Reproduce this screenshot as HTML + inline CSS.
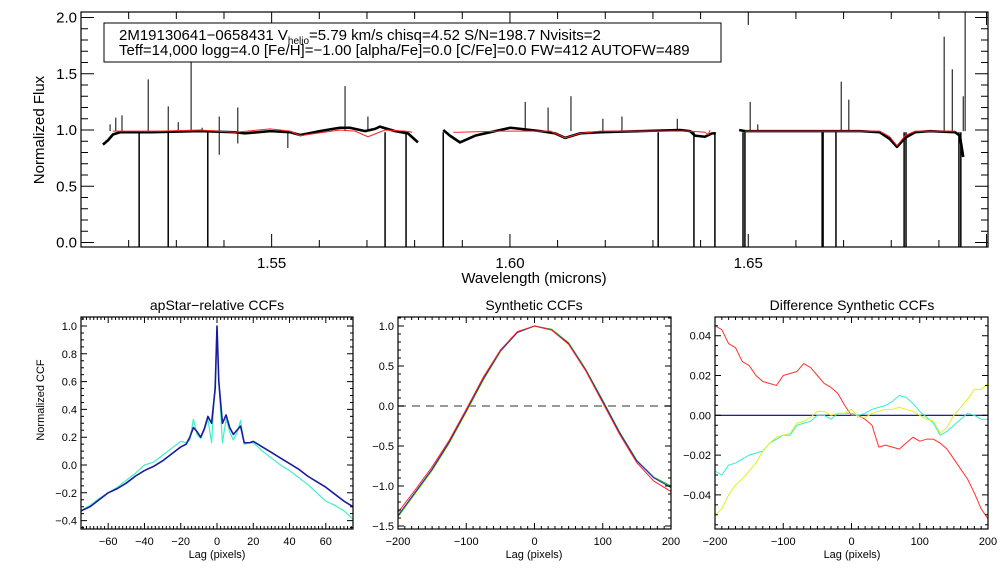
<!DOCTYPE html>
<html><head><meta charset="utf-8">
<style>
html,body{margin:0;padding:0;background:#fff;}
svg{display:block;font-family:"Liberation Sans",sans-serif;}
</style></head>
<body>
<svg id="c" width="1008" height="576" viewBox="0 0 1008 576">
<rect width="1008" height="576" fill="#fff"/>
</svg>
<script>
// ===== Top panel data: spectrum =====
var chip1Wave=[1.5146,1.5157,1.5167,1.5182,1.5245,1.5350,1.5423,1.5444,1.5497,1.5539,1.5560,1.5601,1.5643,1.5664,1.5696,1.5717,1.5727,1.5759,1.5786,1.5807];
var chip1Flux=[0.87,0.91,0.96,0.98,0.98,0.99,0.98,0.97,0.99,0.98,0.955,0.99,1.02,1.02,0.99,1.01,1.03,0.99,0.97,0.89];
var chip1ModelWave=[1.5167,1.5266,1.5350,1.5423,1.5497,1.5539,1.5560,1.5643,1.5675,1.5702,1.5738,1.5780,1.5795];
var chip1ModelFlux=[0.99,0.99,1.0,0.98,1.01,0.99,0.95,1.0,0.99,0.94,1.0,0.99,0.98];
var chip2Wave=[1.5860,1.5874,1.5895,1.5927,1.5969,1.6001,1.6064,1.6095,1.6116,1.6147,1.6189,1.6273,1.6357,1.6378,1.6388,1.6409,1.6424,1.6432];
var chip2Flux=[1.0,0.95,0.89,0.95,0.99,1.02,0.99,0.97,0.93,0.97,0.98,0.99,1.0,0.99,0.95,0.94,0.97,0.97];
var chip2ModelWave=[1.5881,1.5891,1.5980,1.6085,1.6116,1.6147,1.6189,1.6378,1.6409,1.6416,1.6420];
var chip2ModelFlux=[0.98,0.98,0.99,0.99,0.93,0.97,0.99,0.99,0.98,0.96,1.0];
var chip3Wave=[1.6481,1.6493,1.6609,1.6735,1.6776,1.6797,1.6812,1.6829,1.6850,1.6881,1.6934,1.6944,1.6951];
var chip3Flux=[1.0,0.99,0.99,0.99,0.98,0.92,0.85,0.93,0.98,0.99,0.98,0.95,0.76];
var chip3ModelWave=[1.6493,1.6776,1.6797,1.6812,1.6829,1.6850,1.6934];
var chip3ModelFlux=[0.99,0.99,0.94,0.86,0.95,0.99,0.99];
var spikeWave=[1.5161,1.5173,1.5186,1.5241,1.5283,1.5304,1.5331,1.5354,1.5390,1.5390,1.5429,1.5429,1.5534,1.5654,1.5702,1.6032,1.6080,1.6128,1.6195,1.6235,1.6351,1.6504,1.6520,1.6695,1.6711,1.6911,1.6928,1.6951,1.6955];
var spikeFlux=[1.05,1.11,1.13,1.45,1.21,1.07,1.6,1.02,1.12,0.78,1.2,0.88,0.84,1.39,1.12,1.25,1.2,1.3,1.1,1.12,1.1,1.25,1.05,1.43,1.27,1.83,1.54,1.3,2.05];
var badWave=[1.5222,1.5283,1.5366,1.5738,1.5782,1.5860,1.6311,1.6386,1.6430,1.6489,1.6493,1.6655,1.6657,1.6684,1.6827,1.6831,1.6942,1.6946];
var fluxTicks=[0.0,0.5,1.0,1.5,2.0];
var waveTicks=[1.55,1.60,1.65];
// ===== apStar-relative CCFs =====
var lagA=[-75,-70,-65,-60,-55,-50,-45,-40,-35,-30,-25,-20,-17,-15,-13,-11,-9,-7,-5,-3,-1,0,1,3,5,7,9,11,13,15,18,20,25,30,35,40,45,50,55,60,65,70,75];
var ccfBlue=[-0.33,-0.30,-0.25,-0.20,-0.17,-0.13,-0.08,-0.04,-0.01,0.03,0.08,0.13,0.15,0.20,0.27,0.24,0.20,0.26,0.35,0.30,0.55,1.0,0.60,0.30,0.36,0.27,0.22,0.25,0.28,0.16,0.16,0.17,0.13,0.09,0.05,0.01,-0.03,-0.08,-0.12,-0.16,-0.21,-0.26,-0.30];
var ccfCyan=[-0.33,-0.29,-0.24,-0.20,-0.16,-0.11,-0.06,0.00,0.02,0.07,0.12,0.17,0.16,0.18,0.33,0.22,0.19,0.25,0.33,0.16,0.60,1.0,0.60,0.16,0.33,0.24,0.18,0.23,0.32,0.15,0.16,0.16,0.10,0.05,0.00,-0.04,-0.09,-0.14,-0.20,-0.26,-0.29,-0.33,-0.39];
// ===== Synthetic CCFs =====
var lagS=[-200,-175,-150,-125,-100,-75,-50,-25,0,25,50,75,100,125,150,175,200];
var synBlue=[-1.37,-1.08,-0.79,-0.45,-0.06,0.34,0.69,0.92,1.0,0.95,0.78,0.45,0.06,-0.34,-0.69,-0.90,-1.02];
var synGreen=[-1.38,-1.09,-0.80,-0.46,-0.07,0.33,0.68,0.92,1.0,0.96,0.79,0.46,0.07,-0.33,-0.68,-0.89,-1.00];
var synYellow=[-1.39,-1.10,-0.81,-0.47,-0.08,0.32,0.68,0.92,1.0,0.96,0.79,0.46,0.07,-0.33,-0.68,-0.89,-1.01];
var synRed=[-1.33,-1.05,-0.76,-0.43,-0.04,0.36,0.70,0.93,1.0,0.95,0.77,0.44,0.04,-0.36,-0.71,-0.94,-1.07];
// ===== Difference synthetic CCFs =====
var lagD=[-200,-190,-180,-170,-160,-150,-140,-130,-120,-110,-100,-90,-80,-70,-60,-50,-40,-30,-20,-10,0,10,20,30,40,50,60,70,80,90,100,110,120,130,140,150,160,170,180,190,200];
var difRed=[0.045,0.043,0.036,0.034,0.027,0.025,0.020,0.017,0.016,0.015,0.020,0.021,0.022,0.026,0.024,0.020,0.016,0.014,0.011,0.005,0.000,0.000,-0.002,-0.005,-0.016,-0.015,-0.016,-0.017,-0.014,-0.011,-0.013,-0.012,-0.012,-0.014,-0.017,-0.022,-0.027,-0.032,-0.039,-0.047,-0.052];
var difCyan=[-0.028,-0.030,-0.025,-0.024,-0.022,-0.020,-0.019,-0.018,-0.014,-0.012,-0.010,-0.010,-0.005,-0.004,-0.003,0.000,0.000,-0.002,0.001,0.001,0.001,0.000,0.001,0.003,0.004,0.005,0.007,0.010,0.009,0.006,0.002,-0.001,-0.004,-0.010,-0.008,-0.005,-0.002,0.001,0.000,-0.002,-0.002];
var difYellow=[-0.050,-0.047,-0.040,-0.035,-0.032,-0.028,-0.024,-0.018,-0.014,-0.011,-0.010,-0.009,-0.004,-0.003,-0.001,0.002,0.002,0.000,0.001,0.001,0.003,-0.001,-0.001,0.001,0.002,0.003,0.003,0.004,0.003,0.002,0.000,-0.002,-0.003,-0.009,-0.006,0.000,0.004,0.008,0.013,0.013,0.016];
var difZero=[0,0];
var difZeroLag=[-200,200];

var NS="http://www.w3.org/2000/svg";
var svg=document.getElementById('c');
function mk(tag,attrs,parent){var e=document.createElementNS(NS,tag);for(var k in attrs)e.setAttribute(k,attrs[k]);(parent||svg).appendChild(e);return e;}
function scale(d0,d1,r0,r1){return function(v){return r0+(v-d0)/(d1-d0)*(r1-r0);};}
function poly(xs,ys,X,Y,color,w,name,dash){
  var p=xs.map(function(x,i){return X(x).toFixed(2)+','+Y(ys[i]).toFixed(2);}).join(' ');
  var a={points:p,fill:'none',stroke:color,'stroke-width':w,'stroke-linejoin':'round'};
  if(dash)a['stroke-dasharray']=dash;
  var el=mk('polyline',a);
  
  
  return el;
}
function axes(box,X,Y,xr,yr,xMaj,xMin,yMaj,yMin,majL,minL,name){
  var g=mk('g',{});
  
  
  mk('rect',{x:box.l,y:box.t,width:box.r-box.l,height:box.b-box.t,fill:'none',stroke:'#000','stroke-width':1.2},g);
  var d='';
  function ticks(lo,hi,step,isX,len){
    var s=Math.ceil(lo/step-1e-6);
    for(var k=s;k*step<=hi+1e-9;k++){var v=k*step;
      if(isX){var x=X(v);d+='M'+x+','+box.b+'v'+(-len)+'M'+x+','+box.t+'v'+len;}
      else{var y=Y(v);d+='M'+box.l+','+y+'h'+len+'M'+box.r+','+y+'h'+(-len);}
    }
  }
  ticks(xr[0],xr[1],xMin,true,minL);ticks(xr[0],xr[1],xMaj,true,majL);
  ticks(yr[0],yr[1],yMin,false,minL);ticks(yr[0],yr[1],yMaj,false,majL);
  mk('path',{d:d,stroke:'#000','stroke-width':1,fill:'none'},g);
}
function txt(x,y,s,size,anchor,name,extra){
  var t=mk('text',Object.assign({x:x,y:y,'font-size':size,'text-anchor':anchor||'middle',fill:'#000'},extra||{}));
  t.textContent=s;
  
  
  return t;
}

// ---- Top panel ----
var TB={l:81,r:988,t:12,b:247};
var TX=scale(1.51,1.7003,TB.l,TB.r);
var TY=function(v){return Math.max(TB.t,Math.min(TB.b,242.5-112.5*v));};
poly(chip1Wave,chip1Flux,TX,TY,'#000',2.6,'spectrum-chip-blue');
poly(chip2Wave,chip2Flux,TX,TY,'#000',2.6,'spectrum-chip-green');
poly(chip3Wave,chip3Flux,TX,TY,'#000',2.6,'spectrum-chip-red');
spikeWave.forEach(function(w,i){
  var el=mk('line',{x1:TX(w),x2:TX(w),y1:TY(0.99),y2:TY(spikeFlux[i]),stroke:'#000','stroke-width':1});
  
  
});
badWave.forEach(function(w){
  var el=mk('line',{x1:TX(w),x2:TX(w),y1:TY(0.98),y2:TY(-0.1),stroke:'#000','stroke-width':1.5});
  
  
});
poly(chip1ModelWave,chip1ModelFlux,TX,TY,'#ff2020',1,'model-chip-blue');
poly(chip2ModelWave,chip2ModelFlux,TX,TY,'#ff2020',1,'model-chip-green');
poly(chip3ModelWave,chip3ModelFlux,TX,TY,'#ff2020',1,'model-chip-red');
axes(TB,TX,TY,[1.51,1.7003],[0,2.0],0.05,0.01,0.5,0.1,13,7,'spectrum');
fluxTicks.forEach(function(v){txt(77,TY(v)+5,v.toFixed(1),15,'end','y-tick-label');});
waveTicks.forEach(function(v){txt(TX(v),268,v.toFixed(2),15,'middle','x-tick-label');});
txt(534,283,'Wavelength (microns)',15,'middle','x-axis-title');
txt(44,130,'Normalized Flux',15,'middle','y-axis-title',{transform:'rotate(-90 44 130)'});
var lg=mk('g',{});


mk('rect',{x:104,y:23,width:617,height:39,fill:'#fff',stroke:'#000','stroke-width':1},lg);
var t1=mk('text',{x:119,y:40,'font-size':15},lg);
t1.innerHTML='2M19130641−0658431  V<tspan font-size="10" dy="4">helio</tspan><tspan dy="-4">=5.79 km/s  chisq=4.52  S/N=198.7  Nvisits=2</tspan>';


var t2=mk('text',{x:119,y:55,'font-size':15},lg);
t2.textContent='Teff=14,000 logg=4.0 [Fe/H]=−1.00 [alpha/Fe]=0.0 [C/Fe]=0.0 FW=412 AUTOFW=489';



// ---- Panel A ----
var AB={l:81,r:353,t:317,b:529};
var AX=scale(-75,75,AB.l,AB.r), AY=scale(0,1,465,326);
poly(lagA,ccfCyan,AX,AY,'#40f0c8',1.2,'ccf-visit-2');
poly(lagA,ccfBlue,AX,AY,'#1a1aa0',1.6,'ccf-visit-1');
axes(AB,AX,AY,[-75,75],[-0.46,1.065],20,2,0.2,0.05,6,3,'apstar-ccf');
[-60,-40,-20,0,20,40,60].forEach(function(v){txt(AX(v),545,String(v).replace('-','−'),11,'middle','x-tick-label');});
[-0.4,-0.2,0,0.2,0.4,0.6,0.8,1.0].forEach(function(v){txt(77,AY(v)+4,v.toFixed(1).replace('-','−'),11,'end','y-tick-label');});
txt(217,310,'apStar−relative CCFs',14,'middle','panel-title');
txt(217,558,'Lag (pixels)',11,'middle','x-axis-title');
txt(44,400,'Normalized CCF',11,'middle','y-axis-title',{transform:'rotate(-90 44 400)'});

// ---- Panel B ----
var BB={l:398,r:671,t:317,b:529};
var BX=scale(-200,200,BB.l,BB.r), BY=scale(0,1,406,326);
var dz=mk('line',{x1:BB.l,x2:BB.r,y1:BY(0),y2:BY(0),stroke:'#777','stroke-width':1.5,'stroke-dasharray':'8,6'});


poly(lagS,synYellow,BX,BY,'#e0f000',1,'synthetic-ccf-yellow');
poly(lagS,synGreen,BX,BY,'#20c020',1,'synthetic-ccf-green');
poly(lagS,synBlue,BX,BY,'#2020c0',1,'synthetic-ccf-blue');
poly(lagS,synRed,BX,BY,'#ff2020',1,'synthetic-ccf-red');
axes(BB,BX,BY,[-200,200],[-1.54,1.11],100,10,0.5,0.1,6,3,'synthetic-ccf');
[-200,-100,0,100,200].forEach(function(v){txt(BX(v),545,String(v).replace('-','−'),11,'middle','x-tick-label');});
[-1.5,-1.0,-0.5,0,0.5,1.0].forEach(function(v){txt(394,BY(v)+4,v.toFixed(1).replace('-','−'),11,'end','y-tick-label');});
txt(534,310,'Synthetic CCFs',14,'middle','panel-title');
txt(534,558,'Lag (pixels)',11,'middle','x-axis-title');

// ---- Panel C ----
var CB={l:715,r:988,t:317,b:529};
var CX=scale(-200,200,CB.l,CB.r), CY=scale(0,0.04,415.3,335.7);
poly(difZeroLag,difZero,CX,CY,'#000080',1.2,'difference-zero-line');
poly(lagD,difRed,CX,CY,'#ff3030',1,'difference-ccf-red');
poly(lagD,difCyan,CX,CY,'#30f0d0',1,'difference-ccf-cyan');
poly(lagD,difYellow,CX,CY,'#e0f020',1,'difference-ccf-yellow');
axes(CB,CX,CY,[-200,200],[-0.057,0.0492],100,10,0.02,0.005,6,3,'difference-ccf');
[-200,-100,0,100,200].forEach(function(v){txt(CX(v),545,String(v).replace('-','−'),11,'middle','x-tick-label');});
[-0.04,-0.02,0,0.02,0.04].forEach(function(v){txt(711,CY(v)+4,v.toFixed(2).replace('-','−'),11,'end','y-tick-label');});
txt(852,310,'Difference Synthetic CCFs',14,'middle','panel-title');
txt(852,558,'Lag (pixels)',11,'middle','x-axis-title');
</script>
</body></html>
